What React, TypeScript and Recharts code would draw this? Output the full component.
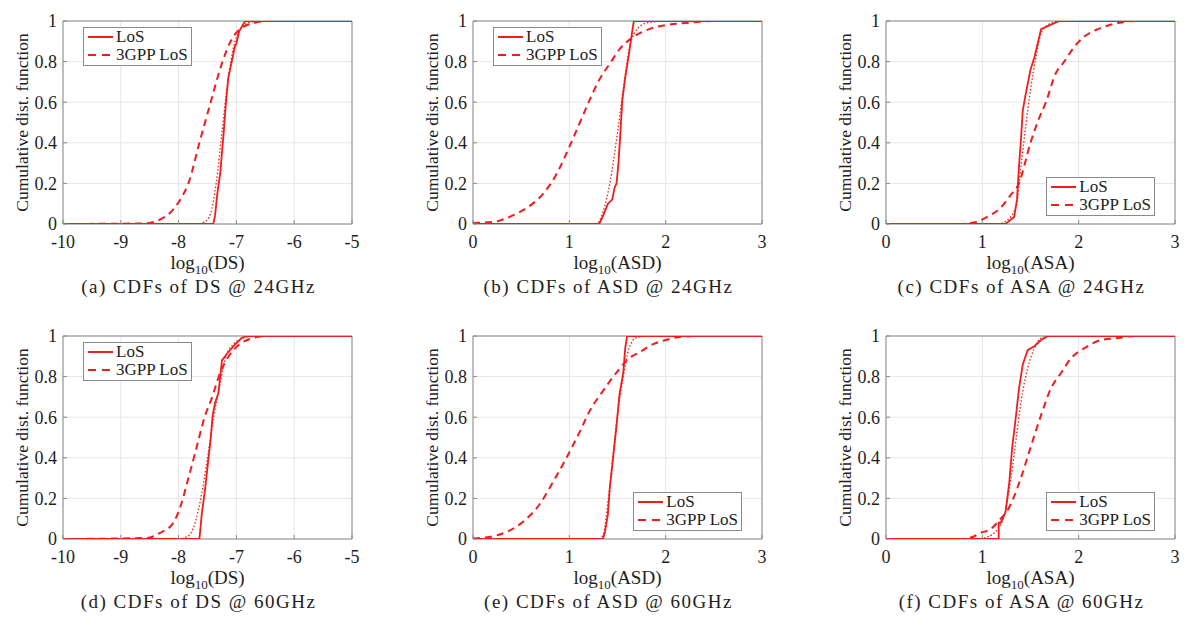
import React from "react";
import { LineChart, Line, XAxis, YAxis, CartesianGrid, ReferenceArea, Legend } from "recharts";

type Pt = [number, number];

const FONT = "'Liberation Serif', 'Times New Roman', serif";
const RED = "#f41b1b";
const INK = "#1e1e1e";
const FRAME = "#8a8a8a";

// axis ticks
const DS_TICKS = [-10, -9, -8, -7, -6, -5];
const ANGLE_TICKS = [0, 1, 2, 3];
const CDF_TICKS = [0, 0.2, 0.4, 0.6, 0.8, 1];

// (a) DS @ 24GHz
const ds24Measured: Pt[] = [[-10, 0], [-7.4, 0], [-7.37, 0.04], [-7.33, 0.15], [-7.28, 0.25], [-7.22, 0.45], [-7.18, 0.6], [-7.14, 0.72], [-7.08, 0.8], [-7.03, 0.87], [-7.0, 0.89], [-6.95, 0.95], [-6.85, 1], [-5, 1]];
const ds24Fitted: Pt[] = [[-10, 0], [-7.7, 0], [-7.55, 0.01], [-7.45, 0.05], [-7.35, 0.2], [-7.25, 0.45], [-7.15, 0.7], [-7.05, 0.87], [-6.95, 0.95], [-6.8, 0.99], [-6.6, 1], [-5, 1]];
const ds24Gpp: Pt[] = [[-10, 0], [-8.6, 0.003], [-8.38, 0.015], [-8.1, 0.07], [-7.95, 0.13], [-7.83, 0.2], [-7.64, 0.4], [-7.445, 0.6], [-7.24, 0.8], [-7.1, 0.9], [-6.94, 0.96], [-6.7, 0.99], [-6.47, 1], [-5, 1]];

// (b) ASD @ 24GHz
const asd24Measured: Pt[] = [[0, 0], [1.31, 0], [1.35, 0.04], [1.4, 0.1], [1.445, 0.12], [1.47, 0.18], [1.49, 0.2], [1.51, 0.3], [1.53, 0.45], [1.55, 0.61], [1.58, 0.72], [1.62, 0.84], [1.65, 0.94], [1.67, 1], [3, 1]];
const asd24Fitted: Pt[] = [[0, 0], [1.28, 0], [1.35, 0.06], [1.42, 0.2], [1.5, 0.45], [1.57, 0.7], [1.62, 0.86], [1.69, 0.95], [1.8, 0.99], [2.0, 1], [3, 1]];
const asd24Gpp: Pt[] = [[0, 0.005], [0.21, 0.01], [0.38, 0.035], [0.55, 0.077], [0.73, 0.15], [0.86, 0.24], [1.0, 0.38], [1.11, 0.5], [1.21, 0.61], [1.31, 0.71], [1.42, 0.79], [1.52, 0.86], [1.66, 0.92], [1.83, 0.96], [2.0, 0.98], [2.21, 0.99], [2.52, 1], [3, 1]];

// (c) ASA @ 24GHz
const asa24Measured: Pt[] = [[0, 0], [1.24, 0], [1.33, 0.035], [1.36, 0.12], [1.38, 0.28], [1.4, 0.41], [1.42, 0.56], [1.45, 0.64], [1.5, 0.76], [1.54, 0.82], [1.61, 0.96], [1.7, 0.98], [1.8, 1], [3, 1]];
const asa24Fitted: Pt[] = [[0, 0], [1.16, 0], [1.26, 0.02], [1.35, 0.085], [1.4, 0.28], [1.45, 0.48], [1.5, 0.66], [1.56, 0.83], [1.61, 0.94], [1.68, 0.98], [1.82, 1], [3, 1]];
const asa24Gpp: Pt[] = [[0, 0], [0.77, 0], [0.91, 0.007], [1.05, 0.035], [1.19, 0.08], [1.29, 0.14], [1.38, 0.2], [1.5, 0.4], [1.58, 0.51], [1.66, 0.6], [1.76, 0.74], [1.85, 0.8], [1.95, 0.87], [2.05, 0.92], [2.2, 0.96], [2.41, 0.99], [2.58, 1], [3, 1]];

// (d) DS @ 60GHz
const ds60Measured: Pt[] = [[-10, 0], [-7.64, 0], [-7.6, 0.12], [-7.54, 0.25], [-7.49, 0.38], [-7.45, 0.48], [-7.41, 0.61], [-7.37, 0.67], [-7.31, 0.72], [-7.25, 0.88], [-7.17, 0.91], [-7.05, 0.95], [-6.91, 0.99], [-6.82, 1], [-5, 1]];
const ds60Fitted: Pt[] = [[-10, 0], [-8.03, 0], [-7.86, 0.01], [-7.75, 0.05], [-7.63, 0.18], [-7.51, 0.38], [-7.4, 0.59], [-7.28, 0.77], [-7.17, 0.91], [-7.05, 0.96], [-6.88, 0.99], [-6.65, 1], [-5, 1]];
const ds60Gpp: Pt[] = [[-10, 0], [-8.55, 0.005], [-8.32, 0.03], [-8.09, 0.08], [-7.98, 0.15], [-7.83, 0.3], [-7.69, 0.45], [-7.54, 0.61], [-7.43, 0.69], [-7.28, 0.82], [-7.11, 0.91], [-6.94, 0.96], [-6.71, 0.99], [-6.47, 1], [-5, 1]];

// (e) ASD @ 60GHz
const asd60Measured: Pt[] = [[0, 0], [1.35, 0], [1.37, 0.035], [1.4, 0.12], [1.42, 0.25], [1.45, 0.38], [1.49, 0.56], [1.52, 0.71], [1.56, 0.82], [1.58, 0.94], [1.6, 1], [3, 1]];
const asd60Fitted: Pt[] = [[0, 0], [1.3, 0], [1.35, 0.02], [1.4, 0.18], [1.45, 0.4], [1.5, 0.61], [1.56, 0.8], [1.62, 0.94], [1.69, 0.99], [1.8, 1], [3, 1]];
const asd60Gpp: Pt[] = [[0, 0.003], [0.17, 0.01], [0.35, 0.035], [0.52, 0.085], [0.69, 0.17], [0.83, 0.28], [0.97, 0.4], [1.11, 0.53], [1.21, 0.63], [1.35, 0.73], [1.49, 0.82], [1.62, 0.89], [1.73, 0.92], [1.87, 0.96], [2.0, 0.98], [2.18, 0.997], [2.35, 1], [3, 1]];

// (f) ASA @ 60GHz
const asa60Measured: Pt[] = [[0, 0], [1.17, 0], [1.17, 0.08], [1.19, 0.08], [1.21, 0.1], [1.24, 0.13], [1.28, 0.28], [1.31, 0.45], [1.35, 0.61], [1.38, 0.74], [1.42, 0.86], [1.47, 0.93], [1.54, 0.95], [1.61, 0.98], [1.68, 1], [3, 1]];
const asa60Fitted: Pt[] = [[0, 0], [0.95, 0], [1.05, 0.01], [1.16, 0.05], [1.23, 0.12], [1.3, 0.31], [1.35, 0.49], [1.4, 0.67], [1.47, 0.84], [1.54, 0.94], [1.61, 0.99], [1.71, 1], [3, 1]];
const asa60Gpp: Pt[] = [[0, 0], [0.77, 0], [0.88, 0.007], [0.98, 0.03], [1.09, 0.05], [1.19, 0.1], [1.26, 0.14], [1.33, 0.21], [1.4, 0.3], [1.5, 0.45], [1.61, 0.61], [1.71, 0.74], [1.82, 0.82], [1.92, 0.89], [2.06, 0.94], [2.23, 0.98], [2.41, 0.99], [2.58, 1], [3, 1]];

const LEGEND_NAMES = ["LoS", "3GPP LoS"];

const toRows = (pts: Pt[]) => pts.map(([x, y]) => ({ x, y }));

function XTitle(props: any) {
  const vb = props.viewBox || {};
  const cx = (vb.x ?? 0) + (vb.width ?? 0) / 2;
  const cy = (vb.y ?? 0) + 45;
  return (
    <text x={cx} y={cy} textAnchor="middle" fontFamily={FONT} fontSize={19} fill={INK}>
      <tspan>log</tspan>
      <tspan dy={5} fontSize={13}>10</tspan>
      <tspan dy={-5}>({props.quantity})</tspan>
    </text>
  );
}

function YTitle(props: any) {
  const vb = props.viewBox || {};
  const cx = (vb.x ?? 0) + 22;
  const cy = (vb.y ?? 0) + (vb.height ?? 0) / 2;
  return (
    <text x={cx} y={cy} transform={`rotate(-90 ${cx} ${cy})`} textAnchor="middle"
          dominantBaseline="central" fontFamily={FONT} fontSize={17.5} fill={INK}>
      Cumulative dist. function
    </text>
  );
}

function LegendBox({ payload }: any) {
  const items = (payload || []).filter((e: any) => LEGEND_NAMES.includes(e.value));
  items.sort((a: any, b: any) => LEGEND_NAMES.indexOf(a.value) - LEGEND_NAMES.indexOf(b.value));
  return (
    <div style={{ border: `1px solid ${FRAME}`, background: "#fff", padding: "0 3px 1px 3px",
                  fontFamily: FONT, fontSize: 17, lineHeight: "18px", color: INK }}>
      {items.map((e: any) => (
        <div key={e.value} style={{ display: "flex", alignItems: "center", whiteSpace: "nowrap" }}>
          <svg width={27} height={10}>
            <line x1={1} y1={5} x2={26} y2={5} stroke={RED} strokeWidth={2}
                  strokeDasharray={e.value === "3GPP LoS" ? "8 6" : undefined} />
          </svg>
          <span style={{ marginLeft: 2 }}>{e.value}</span>
        </div>
      ))}
    </div>
  );
}

type PanelProps = {
  left: number; top: number; quantity: string; caption: string;
  xDomain: [number, number]; xTicks: number[];
  measured: Pt[]; fitted: Pt[]; gpp: Pt[]; legendAt: "top" | "bottom";
};

function CdfPanel(p: PanelProps) {
  const legendStyle = p.legendAt === "top"
    ? { left: 83, top: 27, width: "auto" }
    : { right: 28, bottom: 84, width: "auto" };
  return (
    <div style={{ position: "absolute", left: p.left, top: p.top, width: 400, height: 310 }}>
      <LineChart width={360} height={300} margin={{ top: 21, right: 8, bottom: 0, left: 0 }}>
        <CartesianGrid stroke="#e6e6e6" />
        <XAxis type="number" dataKey="x" domain={p.xDomain} ticks={p.xTicks} interval={0}
               allowDataOverflow height={76} axisLine={false} tickSize={-4} tickMargin={15}
               tickLine={{ stroke: FRAME }} tick={{ fontSize: 18, fill: INK, fontFamily: FONT }}
               label={{ content: (lp: any) => <XTitle {...lp} quantity={p.quantity} /> }} />
        <YAxis type="number" domain={[0, 1]} ticks={CDF_TICKS} interval={0} allowDataOverflow
               width={63} axisLine={false} tickSize={-4} tickMargin={10}
               tickLine={{ stroke: FRAME }} tick={{ fontSize: 18, fill: INK, fontFamily: FONT }}
               label={{ content: (lp: any) => <YTitle {...lp} /> }} />
        <ReferenceArea x1={p.xDomain[0]} x2={p.xDomain[1]} y1={0} y2={1}
                       fill="none" stroke={FRAME} strokeWidth={1} />
        <Line data={toRows(p.fitted)} dataKey="y" name="fit" type="monotone" stroke={RED}
              strokeWidth={1.3} strokeDasharray="1.5 2" dot={false} activeDot={false}
              legendType="none" isAnimationActive={false} />
        <Line data={toRows(p.gpp)} dataKey="y" name="3GPP LoS" type="monotone" stroke={RED}
              strokeWidth={2} strokeDasharray="7 5" dot={false} activeDot={false}
              isAnimationActive={false} />
        <Line data={toRows(p.measured)} dataKey="y" name="LoS" type="linear" stroke={RED}
              strokeWidth={1.8} dot={false} activeDot={false} isAnimationActive={false} />
        <Legend layout="vertical" align="center" verticalAlign="middle"
                wrapperStyle={legendStyle} content={(lp: any) => <LegendBox {...lp} />} />
      </LineChart>
      <div style={{ position: "absolute", left: 0, width: 397, top: 277, textAlign: "center",
                    fontFamily: FONT, fontSize: 19, lineHeight: "20px", letterSpacing: "1.5px",
                    color: INK }}>
        {p.caption}
      </div>
    </div>
  );
}

export default function App() {
  return (
    <div style={{ position: "absolute", left: 0, top: 0, width: 1200, height: 630, background: "#fff" }}>
      <CdfPanel left={0} top={0} quantity="DS" caption="(a) CDFs of DS @ 24GHz"
                xDomain={[-10, -5]} xTicks={DS_TICKS} measured={ds24Measured}
                fitted={ds24Fitted} gpp={ds24Gpp} legendAt="top" />
      <CdfPanel left={410} top={0} quantity="ASD" caption="(b) CDFs of ASD @ 24GHz"
                xDomain={[0, 3]} xTicks={ANGLE_TICKS} measured={asd24Measured}
                fitted={asd24Fitted} gpp={asd24Gpp} legendAt="top" />
      <CdfPanel left={823} top={0} quantity="ASA" caption="(c) CDFs of ASA @ 24GHz"
                xDomain={[0, 3]} xTicks={ANGLE_TICKS} measured={asa24Measured}
                fitted={asa24Fitted} gpp={asa24Gpp} legendAt="bottom" />
      <CdfPanel left={0} top={315} quantity="DS" caption="(d) CDFs of DS @ 60GHz"
                xDomain={[-10, -5]} xTicks={DS_TICKS} measured={ds60Measured}
                fitted={ds60Fitted} gpp={ds60Gpp} legendAt="top" />
      <CdfPanel left={410} top={315} quantity="ASD" caption="(e) CDFs of ASD @ 60GHz"
                xDomain={[0, 3]} xTicks={ANGLE_TICKS} measured={asd60Measured}
                fitted={asd60Fitted} gpp={asd60Gpp} legendAt="bottom" />
      <CdfPanel left={823} top={315} quantity="ASA" caption="(f) CDFs of ASA @ 60GHz"
                xDomain={[0, 3]} xTicks={ANGLE_TICKS} measured={asa60Measured}
                fitted={asa60Fitted} gpp={asa60Gpp} legendAt="bottom" />
    </div>
  );
}
